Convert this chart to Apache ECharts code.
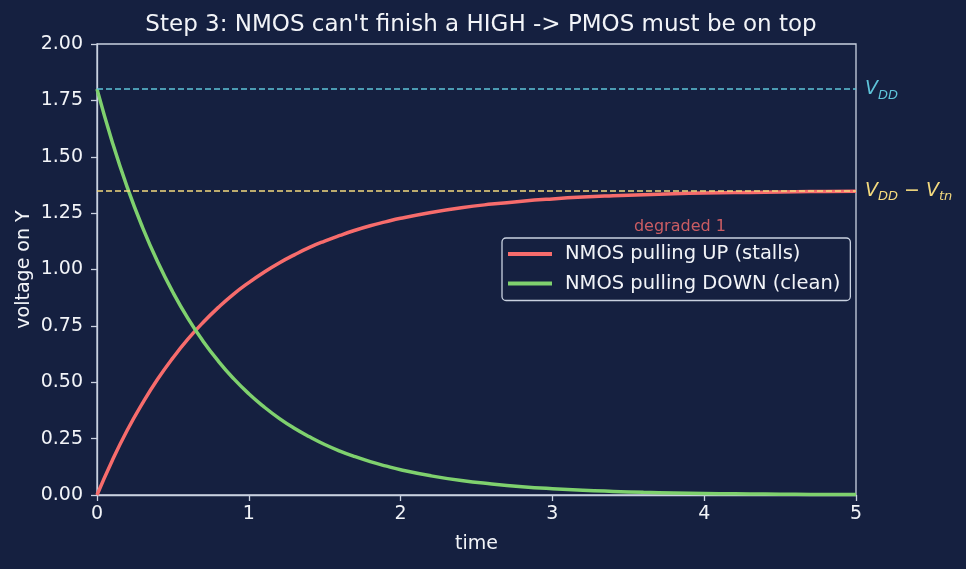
<!DOCTYPE html>
<html>
<head>
    <meta charset="utf-8">
    <title>NMOS step 3</title>
    <style type="text/css">
        body{ margin:0; background-color:#152040; }
        #main{ width:966px; height:569px; }
    </style>
    <script src="https://cdn.jsdelivr.net/npm/echarts@6/dist/echarts.min.js"></script>
</head>
<body>
    <div id="main"></div>
    <script type="text/javascript">
// data
var times  = [0, 0.1, 0.2, 0.3, 0.4, 0.5, 0.6, 0.7, 0.8, 0.9, 1.0,
              1.1, 1.2, 1.3, 1.4, 1.5, 1.6, 1.7, 1.8, 1.9, 2.0,
              2.2, 2.4, 2.6, 2.8, 3.0, 3.2, 3.4, 3.6, 3.8, 4.0,
              4.2, 4.4, 4.6, 4.8, 5.0];
var pullUp = [0, 0.152, 0.288, 0.407, 0.514, 0.608, 0.692, 0.766, 0.832, 0.891, 0.942,
              0.988, 1.029, 1.065, 1.098, 1.126, 1.151, 1.174, 1.194, 1.211, 1.227,
              1.253, 1.274, 1.290, 1.303, 1.313, 1.321, 1.327, 1.332, 1.336, 1.339,
              1.341, 1.343, 1.345, 1.346, 1.347];
var pullDn = [1.8, 1.567, 1.363, 1.187, 1.033, 0.899, 0.782, 0.681, 0.593, 0.516, 0.449,
              0.391, 0.340, 0.296, 0.258, 0.224, 0.195, 0.170, 0.148, 0.129, 0.112,
              0.085, 0.064, 0.049, 0.037, 0.028, 0.021, 0.016, 0.012, 0.0092, 0.0070,
              0.0053, 0.0040, 0.0030, 0.0023, 0.0017];
var vdd = 1.8;
var vddMinusVtn = 1.35;
var seriesNames = ['NMOS pulling UP (stalls)', 'NMOS pulling DOWN (clean)'];
var noteText = 'degraded 1';
var notePos = [3.84, 1.19];

var bg = '#152040';
var fg = '#f2f4f8';
var axisCol = '#c9d1e0';
var font = 'DejaVu Sans';

function pairs(xs, ys) {
    return xs.map(function (x, i) { return [x, ys[i]]; });
}

var myChart = echarts.init(document.getElementById('main'));

// V with subscripts, like matplotlib mathtext
var subRich = {
    i: { fontFamily: font, fontStyle: 'italic', fontSize: 19, lineHeight: 26, verticalAlign: 'middle' },
    s: { fontFamily: font, fontStyle: 'italic', fontSize: 13, lineHeight: 26, verticalAlign: 'bottom', padding: [8, 0, 0, 0] },
    n: { fontFamily: font, fontSize: 19, lineHeight: 26, verticalAlign: 'middle' }
};

var option = {
    backgroundColor: bg,
    animation: false,
    title: {
        text: "Step 3: NMOS can't finish a HIGH -> PMOS must be on top",
        left: 476, top: 9, textAlign: 'center',
        textStyle: { color: fg, fontSize: 23, fontWeight: 'normal', fontFamily: font }
    },
    grid: {
        left: 97, right: 110, top: 44, bottom: 74,
        show: true, borderColor: axisCol, borderWidth: 1.3, backgroundColor: 'transparent'
    },
    legend: {
        data: seriesNames,
        orient: 'vertical',
        left: 502, top: 238,
        padding: [6, 10, 7, 6],
        itemWidth: 44, itemHeight: 4, itemGap: 9.5,
        icon: 'rect',
        backgroundColor: bg,
        borderColor: axisCol, borderWidth: 1.3, borderRadius: 4,
        textStyle: { color: fg, fontSize: 19.5, fontFamily: font, padding: [0, 0, 0, 8] }
    },
    xAxis: {
        type: 'value', min: 0, max: 5, interval: 1,
        name: 'time', nameLocation: 'middle', nameGap: 40,
        nameTextStyle: { color: fg, fontSize: 19, fontFamily: font },
        axisLine: { show: true, lineStyle: { color: axisCol, width: 1.3 } },
        axisTick: { show: true, length: 6, lineStyle: { color: axisCol, width: 1.3 } },
        axisLabel: { color: fg, fontSize: 19, fontFamily: font, margin: 10 },
        splitLine: { show: false }
    },
    yAxis: {
        type: 'value', min: 0, max: 2, interval: 0.25,
        name: 'voltage on Y', nameLocation: 'middle', nameGap: 63,
        nameMoveOverlap: false,
        nameTextStyle: { color: fg, fontSize: 19, fontFamily: font },
        axisLine: { show: true, lineStyle: { color: axisCol, width: 1.3 } },
        axisTick: { show: true, length: 6, lineStyle: { color: axisCol, width: 1.3 } },
        axisLabel: {
            color: fg, fontSize: 19, fontFamily: font, margin: 14,
            formatter: function (v) { return v.toFixed(2); }
        },
        splitLine: { show: false }
    },
    series: [
        {
            name: seriesNames[0],
            type: 'line',
            smooth: true,
            showSymbol: false,
            clip: true,
            color: '#f76c6c',
            lineStyle: { width: 3.5, color: '#f76c6c' },
            data: pairs(times, pullUp),
            z: 3
        },
        {
            name: seriesNames[1],
            type: 'line',
            smooth: true,
            showSymbol: false,
            clip: true,
            color: '#7fd16e',
            lineStyle: { width: 3.5, color: '#7fd16e' },
            data: pairs(times, pullDn),
            z: 3
        },
        {
            name: 'refs',
            type: 'line',
            data: [],
            silent: true,
            markLine: {
                symbol: 'none',
                silent: true,
                data: [
                    {
                        yAxis: vdd,
                        lineStyle: { color: '#5ec3d8', type: [6, 3], width: 1.5 },
                        label: {
                            position: 'end', distance: 9,
                            formatter: '{i|V}{s|DD}',
                            color: '#5ec3d8', rich: subRich
                        }
                    },
                    {
                        yAxis: vddMinusVtn,
                        lineStyle: { color: '#f3d97e', type: [6, 3], width: 1.5 },
                        label: {
                            position: 'end', distance: 9,
                            formatter: '{i|V}{s|DD}{n| − }{i|V}{s|tn}',
                            color: '#f3d97e', rich: subRich
                        }
                    }
                ]
            },
            z: 2
        },
        {
            // the "degraded 1" note
            name: 'note',
            type: 'scatter',
            data: [notePos],
            symbolSize: 1,
            itemStyle: { color: 'rgba(0,0,0,0)' },
            silent: true,
            label: {
                show: true, position: 'inside',
                formatter: noteText,
                color: '#f76c6c', fontSize: 16, fontFamily: font
            },
            z: 4
        }
    ]
};

myChart.setOption(option);
    </script>
</body>
</html>
